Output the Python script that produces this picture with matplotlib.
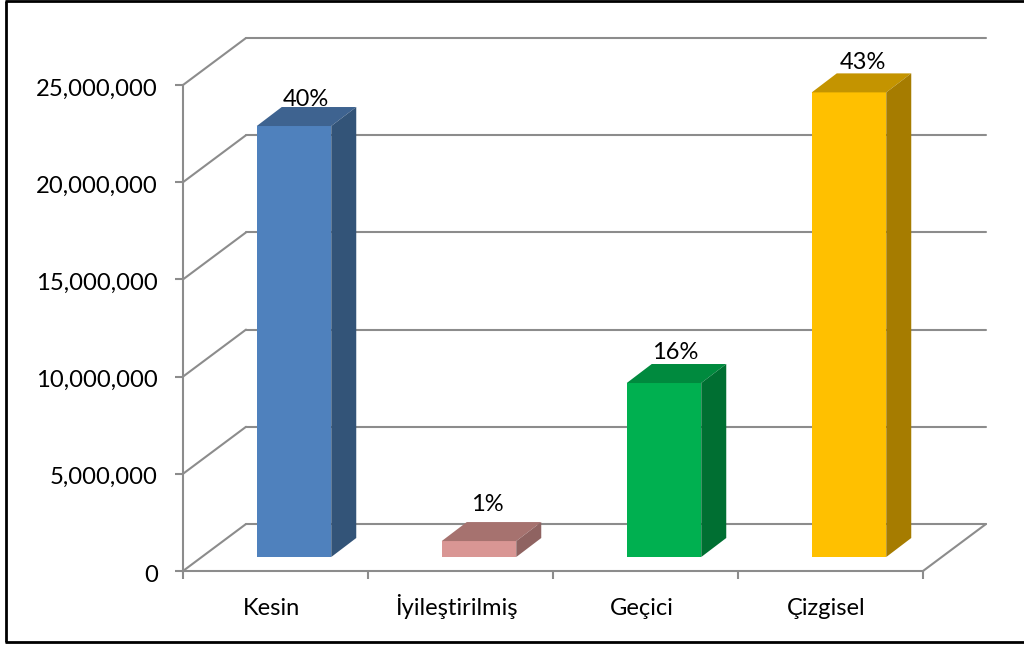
import matplotlib
matplotlib.use("Agg")
import matplotlib.pyplot as plt
from matplotlib.lines import Line2D
from matplotlib.ticker import FuncFormatter
from matplotlib.transforms import ScaledTranslation

plt.rcParams["font.family"] = ["Lato", "DejaVu Sans"]

categories = ["Kesin", "İyileştirilmiş", "Geçici", "Çizgisel"]
values = [22170000, 820000, 8950000, 23900000]
percent_labels = ["40%", "1%", "16%", "43%"]
label_gaps = [8, 18, 12, 11]
label_shifts = [11.5, 8, 11.5, 14]
y_ticks = [0, 5000000, 10000000, 15000000, 20000000, 25000000]

front_colors = ["#4F81BD", "#D99694", "#00B050", "#FFC000"]
top_colors = ["#3E6390", "#A6726F", "#008A3E", "#C49400"]
side_colors = ["#335478", "#8F6361", "#006F32", "#A67C00"]

GRID = "#8C8C8C"
W, H = 1024, 646
LEFT, RIGHT, BASE, TOP = 183, 923, 571, 85

fig = plt.figure(figsize=(W / 100, H / 100), dpi=100, facecolor="white")
ax = fig.add_axes([LEFT / W, (H - BASE) / H, (RIGHT - LEFT) / W, (BASE - TOP) / H])
ax.set_xlim(0, len(categories))
ax.set_ylim(0, y_ticks[-1])
ax.patch.set_visible(False)

# Pixel lengths of the 3D projection, expressed in data units.
px_x = len(categories) / (RIGHT - LEFT)
px_y = y_ticks[-1] / (BASE - TOP)
wall_dx, wall_dy = 63 * px_x, 47 * px_y
bar_dx, bar_dy = 25 * px_x, 19 * px_y
floor_dx, floor_dy = 18.5 * px_x, 14 * px_y
bar_width = 74.5 * px_x

# Back wall, side wall and floor edges.
line_style = dict(color=GRID, lw=1.5, clip_on=False, zorder=1, solid_capstyle="round")
for tick in y_ticks:
    ax.plot([0, wall_dx], [tick, tick + wall_dy], **line_style)
    ax.plot([wall_dx, len(categories) + wall_dx],
            [tick + wall_dy, tick + wall_dy], **line_style)
ax.plot([len(categories), len(categories) + wall_dx], [0, wall_dy], **line_style)

# Each column: a front face plus projected top and side faces.
for i, value in enumerate(values):
    x0 = i + 0.5 + floor_dx - bar_width / 2
    x1 = x0 + bar_width
    y0 = floor_dy
    y1 = floor_dy + value
    ax.bar(x0 + bar_width / 2, value, width=bar_width, bottom=y0,
           color=front_colors[i], edgecolor="none", zorder=3, clip_on=False)
    ax.fill([x0, x1, x1 + bar_dx, x0 + bar_dx],
            [y1, y1, y1 + bar_dy, y1 + bar_dy],
            color=top_colors[i], lw=0, zorder=3, clip_on=False)
    ax.fill([x1, x1 + bar_dx, x1 + bar_dx, x1],
            [y0, y0 + bar_dy, y1 + bar_dy, y1],
            color=side_colors[i], lw=0, zorder=3, clip_on=False)
    ax.annotate(percent_labels[i], xy=((x0 + x1) / 2, y1 + bar_dy),
                xytext=(label_shifts[i] * 0.72, label_gaps[i] * 0.72),
                textcoords="offset points",
                ha="center", va="center", fontsize=17, color="black", zorder=5,
                annotation_clip=False)

# Axes: grey spines and ticks, categories centred between the tick marks.
for name in ("top", "right"):
    ax.spines[name].set_visible(False)
for name in ("left", "bottom"):
    ax.spines[name].set_color(GRID)
    ax.spines[name].set_linewidth(1.5)
    ax.spines[name].set_zorder(2)

ax.set_yticks(y_ticks)
ax.yaxis.set_major_formatter(FuncFormatter(lambda v, _: f"{int(v):,}"))
ax.tick_params(axis="y", length=6, width=1.5, color=GRID, pad=12, labelsize=17.2)
nudge = ScaledTranslation(0, -2 / 100, fig.dpi_scale_trans)
for label in ax.get_yticklabels():
    label.set_transform(label.get_transform() + nudge)

ax.set_xticks(range(len(categories) + 1))
ax.set_xticklabels([])
ax.set_xticks([i + 0.5 - 4 * px_x for i in range(len(categories))], minor=True)
ax.set_xticklabels(categories, minor=True, fontsize=17)
ax.tick_params(axis="x", which="major", length=6, width=1.5, color=GRID)
ax.tick_params(axis="x", which="minor", length=0, pad=31.5)
for label in ax.get_xticklabels(minor=True):
    label.set_verticalalignment("baseline")

# Black frame around the chart area; it runs off the right-hand edge.
frame = dict(color="black", lw=2, transform=fig.transFigure, solid_capstyle="butt")
fig.add_artist(Line2D([6 / W, 6 / W], [(H - 642) / H, (H - 0.5) / H], **frame))
fig.add_artist(Line2D([5 / W, 1], [(H - 642) / H, (H - 642) / H], **frame))
fig.add_artist(Line2D([5 / W, 1], [(H - 0.5) / H, (H - 0.5) / H], **frame))

fig.savefig("out.png", dpi=100)
